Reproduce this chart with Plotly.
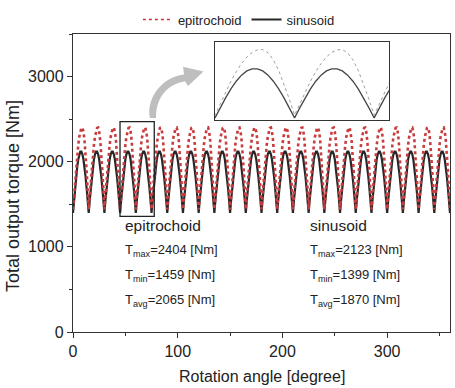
import plotly.graph_objects as go

# ---------------- data ----------------
period_deg = 15          # one torque arch every 15 degrees
n_periods = 24           # 0 .. 360 degrees
# one arch of each curve, sampled every 1 degree from the cusp (t = 0..14)
epi_arch = [1440, 1613, 1780, 1937, 2077, 2197, 2292, 2359, 2396, 2401,
            2354, 2250, 2096, 1901, 1678]
sin_arch = [1399, 1550, 1693, 1825, 1937, 2026, 2088, 2119, 2119, 2088,
            2026, 1937, 1825, 1693, 1550]

x_ticks = [0, 100, 200, 300]
y_ticks = [0, 1000, 2000, 3000]

epi_stats = {"max": 2404, "min": 1459, "avg": 2065}
sin_stats = {"max": 2123, "min": 1399, "avg": 1870}

# full series: the measured arch repeated over every period
angles = list(range(0, period_deg * n_periods + 1))
epi_torque = epi_arch * n_periods + [epi_arch[0]]
sin_torque = sin_arch * n_periods + [sin_arch[0]]

# ---------------- layout geometry ----------------
W, H = 455, 388
L, R, T, B = 73, 5, 23, 56
PW, PH = W - L - R, H - T - B
X_RANGE = [0, 360]
Y_RANGE = [0, 3500]


def px_to_data(px, py):
    x = X_RANGE[0] + (px - L) / PW * (X_RANGE[1] - X_RANGE[0])
    y = Y_RANGE[0] + (T + PH - py) / PH * (Y_RANGE[1] - Y_RANGE[0])
    return x, y


def px_to_paper(px, py):
    return (px - L) / PW, (T + PH - py) / PH


FONT = "Arial, Liberation Sans, sans-serif"
RED = "rgb(200,60,62)"
DARK = "rgb(40,40,40)"

fig = go.Figure()

# main curves
fig.add_trace(go.Scatter(x=angles, y=sin_torque, mode="lines", name="sinusoid",
                         line=dict(color=DARK, width=2.2), showlegend=False))
fig.add_trace(go.Scatter(x=angles, y=epi_torque, mode="lines", name="epitrochoid",
                         line=dict(color=RED, width=2.6, dash="dot"), showlegend=False))

# legend entries (thin line samples as in the reference legend)
fig.add_trace(go.Scatter(x=[None], y=[None], mode="lines", name="epitrochoid",
                         line=dict(color="rgb(210,50,55)", width=1.6, dash="dot"),
                         legendrank=1))
fig.add_trace(go.Scatter(x=[None], y=[None], mode="lines", name="sinusoid",
                         line=dict(color=DARK, width=1.8), legendrank=2))

# inset curves
fig.add_trace(go.Scatter(x=angles, y=sin_torque, mode="lines", xaxis="x2", yaxis="y2",
                         line=dict(color="rgb(70,70,70)", width=1.3), showlegend=False))
fig.add_trace(go.Scatter(x=angles, y=epi_torque, mode="lines", xaxis="x2", yaxis="y2",
                         line=dict(color="rgb(165,155,155)", width=1, dash="dot"),
                         showlegend=False))

# inset domain
ix0, iy0 = px_to_paper(215, 112)
ix1, iy1 = px_to_paper(389, 31)

axis_common = dict(showline=True, mirror=True, linecolor="#333", linewidth=1.3,
                   showgrid=False, zeroline=False)

fig.update_layout(
    width=W, height=H,
    margin=dict(l=L, r=R, t=T, b=B),
    paper_bgcolor="white", plot_bgcolor="white",
    font=dict(family=FONT, color="#222"),
    xaxis=dict(range=X_RANGE, tickvals=x_ticks, ticks="outside", ticklen=5,
               tickwidth=1.2, tickcolor="#333", tickfont=dict(size=16),
               minor=dict(dtick=50, ticks="outside", ticklen=3, tickcolor="#333"),
               **axis_common),
    yaxis=dict(range=Y_RANGE, tickvals=y_ticks, ticks="outside", ticklen=5,
               tickwidth=1.2, tickcolor="#333", tickfont=dict(size=16),
               minor=dict(dtick=500, ticks="outside", ticklen=3, tickcolor="#333"),
               **axis_common),
    xaxis2=dict(domain=[ix0, ix1], anchor="y2", range=[45, 77.8],
                showticklabels=False, ticks="", **axis_common),
    yaxis2=dict(domain=[iy0, iy1], anchor="x2", range=[1371, 2516],
                showticklabels=False, ticks="", **axis_common),
    legend=dict(orientation="h", x=0.44, y=px_to_paper(0, 8)[1], xanchor="center",
                yanchor="middle", font=dict(size=13), bgcolor="rgba(0,0,0,0)",
                itemwidth=30, traceorder="normal"),
    showlegend=True,
)

# highlight box on the main plot
fig.add_shape(type="rect", xref="x", yref="y", x0=44.9, x1=77.6, y0=1359, y1=2470,
              line=dict(color="#222", width=1.3), fillcolor="rgba(0,0,0,0)")

# curved grey arrow (pixel outline converted to data coordinates)
arrow_px = [("M", [(150, 110)]),
            ("C", [(146, 92), (160, 68), (184, 65)]),
            ("L", [(183, 57)]),
            ("L", [(203.5, 62)]),
            ("L", [(188, 77)]),
            ("L", [(185, 72)]),
            ("C", [(168, 75), (156, 88), (156, 110)])]
path = ""
for cmd, pts in arrow_px:
    path += cmd + " " + " ".join("%.3f,%.3f" % px_to_data(*p) for p in pts) + " "
path += "Z"
fig.add_shape(type="path", path=path, xref="x", yref="y",
              fillcolor="rgb(190,190,190)", line=dict(width=0))

# axis titles as annotations
ax, ay = px_to_paper(262, 378)
fig.add_annotation(text="Rotation angle [degree]", xref="paper", yref="paper",
                   x=ax, y=ay, showarrow=False, font=dict(size=16),
                   xanchor="center", yanchor="middle")
tx, ty = px_to_paper(13, 191)
fig.add_annotation(text="Total output torque [Nm]", xref="paper", yref="paper",
                   x=tx, y=ty, showarrow=False, font=dict(size=18), textangle=-90,
                   xanchor="center", yanchor="middle")


# statistics text blocks
def stats_block(x_px, name, stats):
    rows = [(222, name, 15.5),
            (248, "T<sub>max</sub>=%d [Nm]" % stats["max"], 13),
            (273, "T<sub>min</sub>=%d [Nm]" % stats["min"], 13),
            (299, "T<sub>avg</sub>=%d [Nm]" % stats["avg"], 13)]
    for y_px, txt, size in rows:
        px, py = px_to_paper(x_px, y_px)
        fig.add_annotation(text=txt, xref="paper", yref="paper", x=px, y=py,
                           showarrow=False, xanchor="left", yanchor="middle",
                           font=dict(size=size))


stats_block(123, "epitrochoid", epi_stats)
stats_block(308, "sinusoid", sin_stats)

fig.write_html("out.html",
               config={"displayModeBar": False},
               post_script="document.body.style.margin='0';"
                           "document.body.style.overflow='hidden';")
